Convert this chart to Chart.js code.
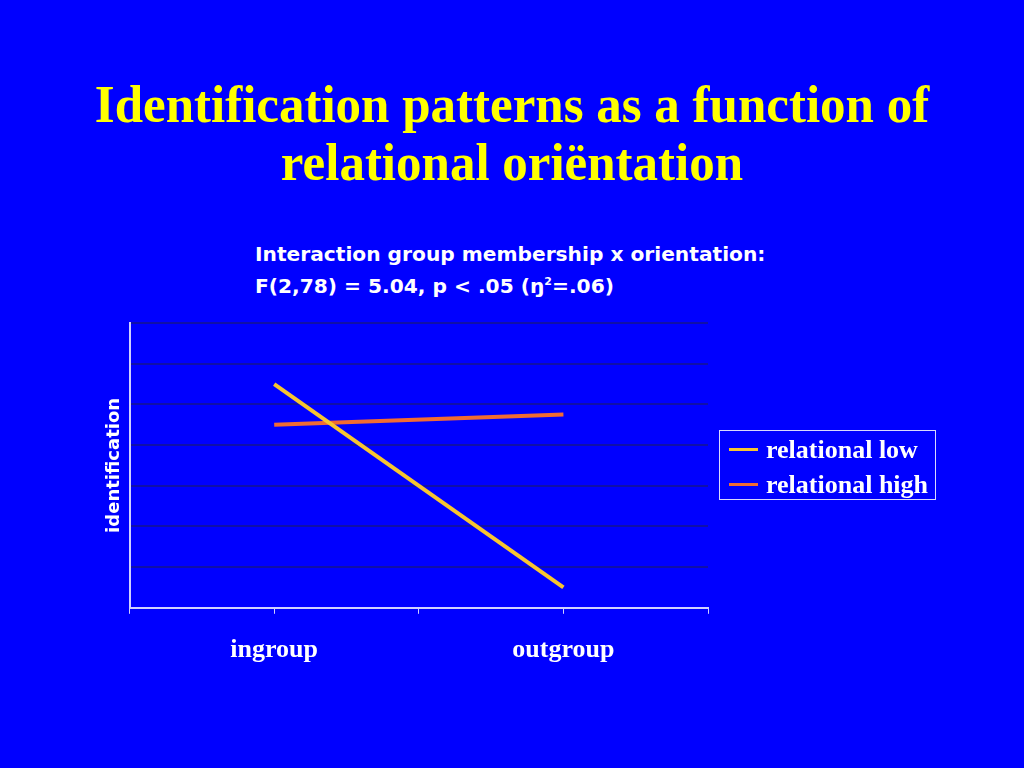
<!DOCTYPE html>
<html>
<head>
<meta charset="utf-8">
<script src="https://cdn.jsdelivr.net/npm/chart.js@4.4.1/dist/chart.umd.min.js"></script>
<style>
  html, body { margin:0; padding:0; width:1024px; height:768px; background:#0000ff; overflow:hidden; }
  #title { position:absolute; left:0; top:76px; width:1024px; text-align:center; color:#ffff00;
    font-family:"Liberation Serif","Times New Roman",serif; font-weight:bold; font-size:51px; line-height:57px;
    transform-origin: 50% 0; transform: scaleY(1.02); }
  #sub { position:absolute; left:255px; top:238px; color:#ffffff; font-family:"DejaVu Sans",Verdana,sans-serif;
    font-weight:bold; font-size:20.2px; line-height:32px; white-space:nowrap; }
  #sub sup { font-size:11px; vertical-align: 8px; line-height:0; }
  #wrap { position:absolute; left:0; top:300px; width:760px; height:407px; }
  #legend { position:absolute; left:719px; top:430px; width:217px; height:70px; border:1px solid #d8d8ff; box-sizing:border-box;
    font-family:"Liberation Serif","Times New Roman",serif; font-weight:bold; font-size:26px; color:#ffffff; }
  .item { position:absolute; left:9px; height:32px; line-height:32px; white-space:nowrap; }
  .swatch { display:inline-block; width:29px; height:3px; vertical-align:middle; margin-right:8px; position:relative; top:-3px; }
</style>
</head>
<body>
<div id="title">Identification patterns as a function of<br>relational oriëntation</div>
<div id="sub">Interaction group membership x orientation:<br>F(2,78) = 5.04, p &lt; .05 (ŋ<sup>2</sup>=.06)</div>
<div id="wrap"><canvas id="c"></canvas></div>
<div id="legend"></div>
<script>
const categories = ["ingroup", "outgroup"];
const seriesNames = ["relational low", "relational high"];
const relationalLow = [5.5, 0.5];
const relationalHigh = [4.5, 4.75];
const colors = ["#f7c530", "#f26b32"];

const toPoints = arr => arr.map((v, i) => ({ x: i * 2 + 1, y: v }));

const chart = new Chart(document.getElementById('c'), {
  type: 'line',
  data: {
    datasets: [
      { label: seriesNames[0], data: toPoints(relationalLow), borderColor: colors[0], backgroundColor: colors[0], borderWidth: 4, pointRadius: 0, tension: 0 },
      { label: seriesNames[1], data: toPoints(relationalHigh), borderColor: colors[1], backgroundColor: colors[1], borderWidth: 4, pointRadius: 0, tension: 0 }
    ]
  },
  options: {
    responsive: true, maintainAspectRatio: false, animation: false,
    layout: { padding: { left: 100, top: 23, right: 52, bottom: 20 } },
    plugins: { legend: { display: false }, tooltip: { enabled: false } },
    scales: {
      x: {
        type: 'linear', min: 0, max: categories.length * 2,
        ticks: { stepSize: 1, color: '#ffffff', padding: 21, font: { family: 'Liberation Serif', weight: 'bold', size: 26 },
          callback: v => (v % 2 === 1 ? categories[(v - 1) / 2] : '') , autoSkip: false, maxRotation: 0 },
        grid: { drawOnChartArea: false, drawTicks: true, tickLength: 6, color: '#d0d0ff', lineWidth: 1 },
        border: { color: '#d0d0ff', width: 2 }
      },
      y: {
        min: 0, max: 7,
        ticks: { display: false, stepSize: 1 },
        grid: { color: '#1010a8', lineWidth: 2, drawTicks: false },
        border: { color: '#d0d0ff', width: 2 },
        title: { display: true, text: 'identification', color: '#ffffff', font: { family: 'DejaVu Sans', weight: 'bold', size: 18 }, padding: { top: 4, bottom: 4 } }
      }
    }
  }
});

const lg = document.getElementById('legend');
seriesNames.forEach((n, i) => {
  const d = document.createElement('div');
  d.className = 'item';
  d.style.top = (3 + i * 35) + 'px';
  d.innerHTML = '<span class="swatch" style="background:' + colors[i] + '"></span>' + n;
  lg.appendChild(d);
});
</script>
</body>
</html>
